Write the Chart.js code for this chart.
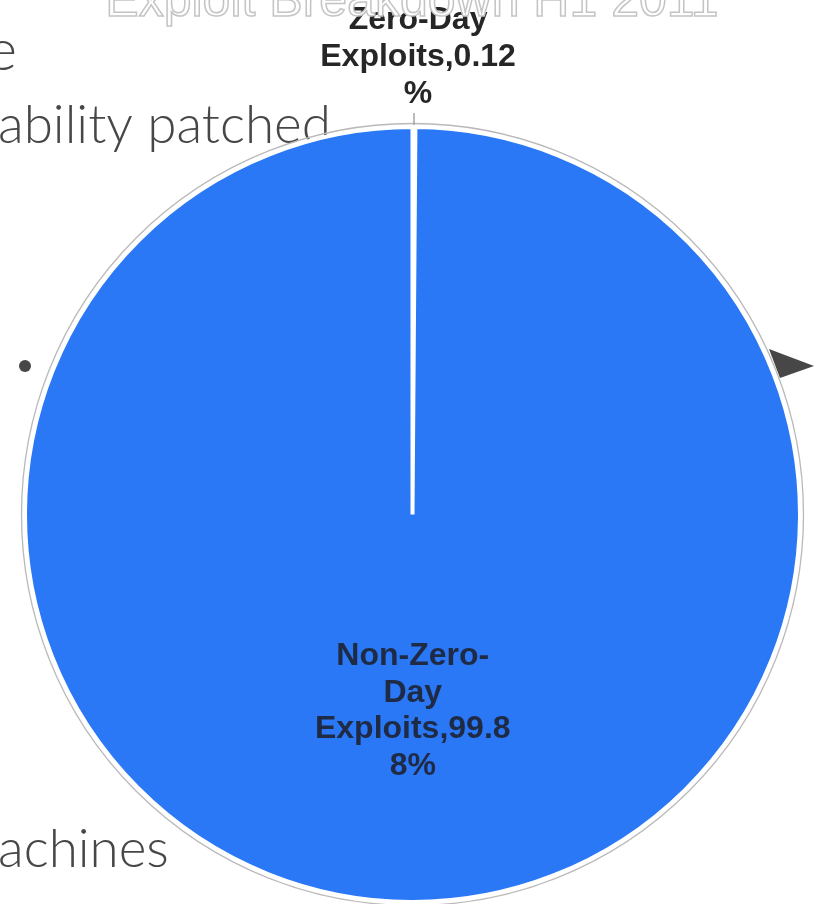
<!DOCTYPE html>
<html>
<head>
<meta charset="utf-8">
<title>Exploit Breakdown H1 2011</title>
<script src="https://cdn.jsdelivr.net/npm/chart.js@4.4.1/dist/chart.umd.min.js"></script>
<style>
    html, body { margin: 0; padding: 0; background: #fff; }
    #wrap { position: relative; width: 829px; height: 904px; overflow: hidden; }
    #exploitPie { position: absolute; left: 0; top: 0; }
</style>
</head>
<body>
<div id="wrap">
    <canvas id="exploitPie" width="829" height="904"></canvas>
</div>
<script>
// ================== Data ==================
const chartTitle = "Exploit Breakdown H1 2011";
const categories = ["Zero-Day Exploits", "Non-Zero-Day Exploits"];
const shares = [0.12, 99.88];
const sliceColors = ["#ffffff", "#2a78f6"];

const LABEL_FONT = "bold 32px 'Liberation Sans', Arial, sans-serif";
const LABEL_LINE = 36.7;
const LABEL_MAX_WIDTH = 202;

// Break a label after spaces / hyphens, and mid-word when a word is still too wide
function wrapLabel(ctx, text, maxWidth) {
    const pieces = [];
    text.split(" ").forEach((word, w) => {
        word.split(/(?<=-)/).forEach((part, p) => {
            pieces.push({ part: part, gap: w > 0 && p === 0 ? " " : "" });
        });
    });

    const lines = [];
    let line = "";
    pieces.forEach(({ part, gap }) => {
        const trial = line ? line + gap + part : part;
        if (ctx.measureText(trial).width <= maxWidth) {
            line = trial;
            return;
        }
        if (line) lines.push(line);
        line = part;
        while (ctx.measureText(line).width > maxWidth) {
            let n = line.length;
            while (n > 1 && ctx.measureText(line.slice(0, n)).width > maxWidth) n--;
            lines.push(line.slice(0, n));
            line = line.slice(n);
        }
    });
    if (line) lines.push(line);
    return lines;
}

// Slide content sitting behind the chart
const backdropPlugin = {
    id: "backdrop",
    beforeDraw(chart) {
        const ctx = chart.ctx;
        ctx.save();

        ctx.fillStyle = "#474747";
        ctx.textBaseline = "alphabetic";
        ctx.font = "300 58px Lato, 'Open Sans', sans-serif";
        ctx.textAlign = "right";
        ctx.fillText("e", 17, 70);
        ctx.textAlign = "left";
        ctx.font = "300 53px Lato, 'Open Sans', sans-serif";
        ctx.fillText("ability patched", -2, 143);
        ctx.fillText("achines", -2, 867);

        // bullet
        ctx.beginPath();
        ctx.arc(25, 366, 6, 0, Math.PI * 2);
        ctx.fill();

        // arrow head on the right
        ctx.beginPath();
        ctx.moveTo(769, 349);
        ctx.lineTo(814, 366);
        ctx.lineTo(780, 378);
        ctx.closePath();
        ctx.fill();

        ctx.restore();
    },
};

// Thin grey ring just outside the pie
const ringPlugin = {
    id: "ring",
    afterDatasetsDraw(chart) {
        const arc = chart.getDatasetMeta(0).data[0];
        if (!arc) return;
        const ctx = chart.ctx;
        ctx.save();
        ctx.beginPath();
        ctx.arc(arc.x, arc.y, arc.outerRadius + 3.5, 0, Math.PI * 2);
        ctx.lineWidth = 1.3;
        ctx.strokeStyle = "#b9b9b9";
        ctx.stroke();
        ctx.restore();
    },
};

// Category,value% labels - inside big slices, outside with a leader for tiny ones
const sliceLabelPlugin = {
    id: "sliceLabels",
    afterDatasetsDraw(chart) {
        const ctx = chart.ctx;
        const meta = chart.getDatasetMeta(0);
        ctx.save();
        ctx.font = LABEL_FONT;
        ctx.textAlign = "center";
        ctx.textBaseline = "middle";

        meta.data.forEach((arc, i) => {
            const text = categories[i] + "," + shares[i] + "%";
            const lines = wrapLabel(ctx, text, LABEL_MAX_WIDTH);
            const p = arc.getProps(["x", "y", "startAngle", "endAngle", "outerRadius"], true);

            if (shares[i] >= 5) {
                const c = arc.getCenterPoint(true);
                ctx.fillStyle = "#1f2a44";
                lines.forEach((ln, k) => {
                    ctx.fillText(ln, c.x + 1, c.y + 3 + (k - (lines.length - 1) / 2) * LABEL_LINE);
                });
                return;
            }

            const mid = (p.startAngle + p.endAngle) / 2;
            const cos = Math.cos(mid);
            const sin = Math.sin(mid);
            ctx.beginPath();
            ctx.moveTo(p.x + cos * (p.outerRadius + 2), p.y + sin * (p.outerRadius + 2));
            ctx.lineTo(p.x + cos * (p.outerRadius + 14), p.y + sin * (p.outerRadius + 14));
            ctx.lineWidth = 1.5;
            ctx.strokeStyle = "#a6a6a6";
            ctx.stroke();

            const ax = p.x + cos * (p.outerRadius + 33) + 4;
            const ay = p.y + sin * (p.outerRadius + 33);
            ctx.fillStyle = "#262626";
            lines.forEach((ln, k) => {
                const step = sin < 0 ? -(lines.length - 1 - k) : k;
                ctx.fillText(ln, ax, ay + step * LABEL_LINE);
            });
        });
        ctx.restore();
    },
};

// Hollow title, drawn last so it sits over the top label
const hollowTitlePlugin = {
    id: "hollowTitle",
    afterDraw(chart) {
        const ctx = chart.ctx;
        ctx.save();
        ctx.font = "50px 'Liberation Sans', Arial, sans-serif";
        ctx.textAlign = "center";
        ctx.textBaseline = "alphabetic";
        ctx.fillStyle = "#ffffff";
        ctx.fillText(chartTitle, 412, 16);
        ctx.lineWidth = 1.5;
        ctx.strokeStyle = "#c4c4c4";
        ctx.strokeText(chartTitle, 412, 16);
        ctx.restore();
    },
};

new Chart(document.getElementById("exploitPie"), {
    type: "pie",
    data: {
        labels: categories,
        datasets: [
            {
                data: shares,
                backgroundColor: sliceColors,
                borderColor: "#ffffff",
                borderWidth: 4,
            },
        ],
    },
    options: {
        responsive: false,
        animation: false,
        layout: { padding: { left: 23, right: 27, top: 125, bottom: 0 } },
        plugins: {
            legend: { display: false },
            tooltip: { enabled: false },
            title: { display: false },
        },
    },
    plugins: [backdropPlugin, ringPlugin, sliceLabelPlugin, hollowTitlePlugin],
});
</script>
</body>
</html>
